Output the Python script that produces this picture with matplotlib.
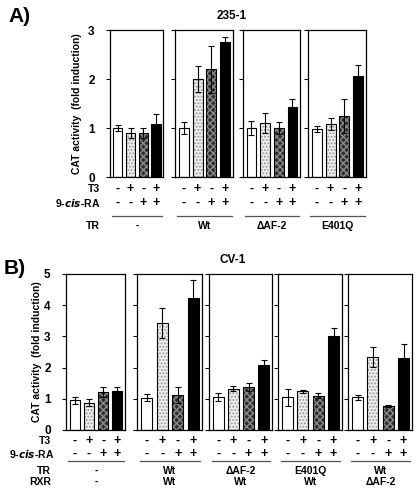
import matplotlib
matplotlib.use('Agg')
import matplotlib.pyplot as plt
from matplotlib.transforms import blended_transform_factory
import numpy as np

plt.rcParams['font.family'] = ['Liberation Sans', 'DejaVu Sans']
plt.rcParams['font.weight'] = 'bold'

W, H = 418, 491

# panel A : 235-1
a_groups = ['-', 'Wt', '\u0394AF-2', 'E401Q']
a_vals = [[1.0, 0.9, 0.9, 1.08],
          [1.0, 2.0, 2.2, 2.75],
          [1.0, 1.1, 1.0, 1.42],
          [0.98, 1.08, 1.24, 2.07]]
a_err = [[0.07, 0.1, 0.1, 0.2],
         [0.12, 0.27, 0.48, 0.1],
         [0.15, 0.2, 0.12, 0.17],
         [0.07, 0.12, 0.35, 0.22]]

# panel B : CV-1
b_tr = ['-', 'Wt', '\u0394AF-2', 'E401Q', 'Wt']
b_rxr = ['-', 'Wt', 'Wt', 'Wt', '\u0394AF-2']
b_vals = [[0.95, 0.88, 1.22, 1.24],
          [1.04, 3.43, 1.12, 4.22],
          [1.05, 1.33, 1.38, 2.07],
          [1.05, 1.24, 1.1, 3.0],
          [1.05, 2.35, 0.77, 2.3]]
b_err = [[0.12, 0.1, 0.15, 0.13],
         [0.1, 0.47, 0.25, 0.6],
         [0.12, 0.07, 0.13, 0.16],
         [0.28, 0.04, 0.07, 0.27],
         [0.08, 0.32, 0.03, 0.46]]

t3 = ['-', '+', '-', '+']
ra = ['-', '-', '+', '+']

fig = plt.figure(figsize=(W / 100, H / 100), dpi=100)


def fx(px):
    return px / W


def fy(py):
    return 1 - py / H


def draw_bars(ax, vals, errs):
    x = np.arange(4)
    ax.bar(x[0], vals[0], 0.72, color='white', edgecolor='black', lw=0.8, zorder=2)
    ax.bar(x[1], vals[1], 0.72, color='#f0f0f0', edgecolor='#9a9a9a', hatch='.....', lw=0, zorder=2)
    ax.bar(x[1], vals[1], 0.72, fill=False, edgecolor='black', lw=0.8, zorder=3)
    ax.bar(x[2], vals[2], 0.72, color='#2e2e2e', edgecolor='#8a8a8a', hatch='xxxxx', lw=0, zorder=2)
    ax.bar(x[2], vals[2], 0.72, fill=False, edgecolor='black', lw=0.8, zorder=3)
    ax.bar(x[3], vals[3], 0.72, color='black', edgecolor='black', lw=0.8, zorder=2)
    ax.errorbar(x, vals, yerr=errs, fmt='none', ecolor='black', elinewidth=0.8,
                capsize=2.5, capthick=0.8, zorder=4)


def panel(spans, top, bottom, ymax, vals, errs, ylab_x, row_y, label_rows):
    axes = []
    for i, (x0, x1) in enumerate(spans):
        ax = fig.add_axes([fx(x0), fy(bottom), fx(x1 - x0), (bottom - top) / H])
        draw_bars(ax, vals[i], errs[i])
        ax.set_xlim(-0.62, 3.55)
        ax.set_ylim(0, ymax)
        ax.set_yticks(range(ymax + 1))
        ax.set_xticks([])
        ax.tick_params(axis='y', direction='out', length=3, width=0.8, pad=8, labelsize=8.5)
        for s in ax.spines.values():
            s.set_linewidth(0.9)
        if i > 0:
            ax.set_yticklabels([])
        tr = blended_transform_factory(ax.transData, fig.transFigure)
        for j in range(4):
            ax.text(j, fy(row_y[0]), t3[j], transform=tr, ha='center', va='center', fontsize=9)
            ax.text(j, fy(row_y[1]), ra[j], transform=tr, ha='center', va='center', fontsize=9)
        ax.plot([-0.45, 3.45], [fy(row_y[2])] * 2, transform=tr, color='#555555', lw=0.9,
                clip_on=False)
        for k, labels in enumerate(label_rows):
            ax.text(1.5, fy(row_y[3 + k]), labels[i], transform=tr, ha='center', va='center',
                    fontsize=7.5)
        axes.append(ax)
    fig.text(fx(ylab_x), fy((top + bottom) / 2), 'CAT activity  (fold induction)',
             rotation=90, ha='center', va='center', fontsize=7.5)
    return axes


# panel A
panel([(110, 163), (175, 233), (243, 300), (308, 366)], 30, 177, 3, a_vals, a_err,
      77, [189, 203, 216, 226], [a_groups])
fig.text(fx(8), fy(17), 'A)', fontsize=15, va='center', ha='left')
fig.text(fx(232), fy(16), '235-1', fontsize=8.5, va='center', ha='center')
fig.text(fx(100), fy(189), 'T3', fontsize=7.5, ha='right', va='center')
fig.text(fx(100), fy(203), '9-$\\bfit{cis}$-RA', fontsize=7.5, ha='right', va='center')
fig.text(fx(100), fy(226), 'TR', fontsize=7.5, ha='right', va='center')

# panel B
panel([(66, 125), (137, 202), (209, 272), (278, 342), (348, 412)], 274, 430, 5, b_vals, b_err,
      37, [441, 454, 461, 471, 482], [b_tr, b_rxr])
fig.text(fx(4), fy(268), 'B)', fontsize=15, va='center', ha='left')
fig.text(fx(233), fy(260), 'CV-1', fontsize=8.5, va='center', ha='center')
fig.text(fx(51), fy(441), 'T3', fontsize=7.5, ha='right', va='center')
fig.text(fx(54), fy(454), '9-$\\bfit{cis}$-RA', fontsize=7.5, ha='right', va='center')
fig.text(fx(51), fy(471), 'TR', fontsize=7.5, ha='right', va='center')
fig.text(fx(51), fy(482), 'RXR', fontsize=7.5, ha='right', va='center')

fig.savefig('out.png', dpi=100)
